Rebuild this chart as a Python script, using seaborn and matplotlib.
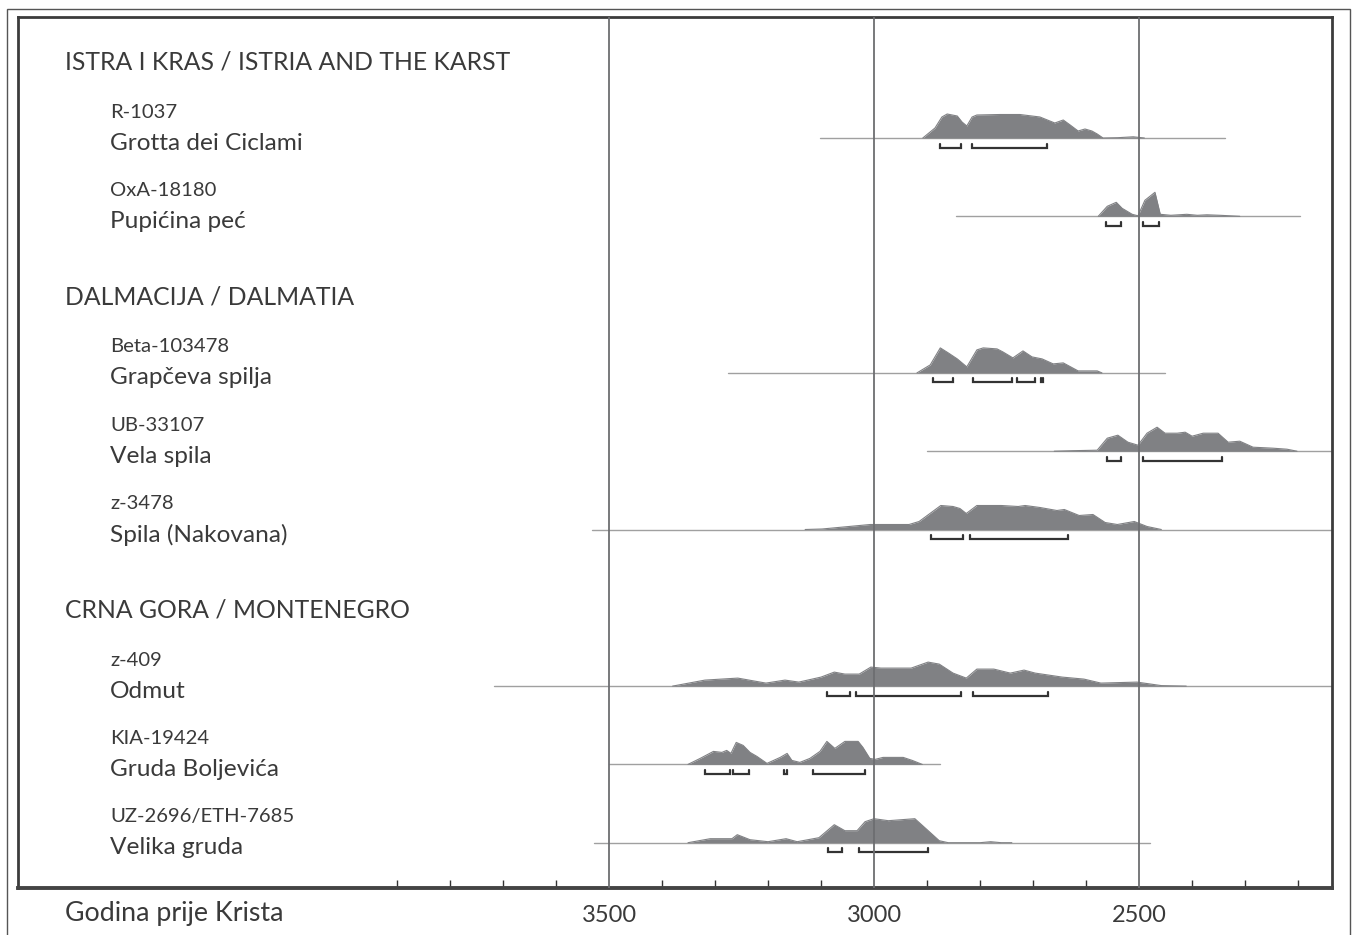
import numpy as np
import matplotlib
matplotlib.use("Agg")
import matplotlib.pyplot as plt
import seaborn as sns
from matplotlib.patches import Rectangle
import matplotlib.transforms as mtransforms

# Data: calibrated probability outlines (year BC, height in px-like units)
ciclami_yr = [2908, 2885, 2872, 2862, 2843, 2834, 2825, 2815, 2806, 2762, 2725, 2687, 2659, 2643, 2630, 2615, 2602, 2589, 2579, 2568, 2540, 2511, 2490]
ciclami_h = [0, 10, 21, 24, 22, 16, 12, 21, 23, 23.5, 23.5, 21, 15, 18, 13, 7, 9, 7, 4, 0, 0.3, 1.2, 0]

pupicina_yr = [2577, 2560, 2543, 2532, 2513, 2502, 2489, 2470, 2460, 2440, 2410, 2390, 2372, 2347, 2310]
pupicina_h = [0, 10, 14, 8, 2, 0.5, 16, 24, 2, 1, 2, 1, 1.5, 1, 0]

grapceva_yr = [2919, 2894, 2875, 2860, 2843, 2825, 2806, 2794, 2768, 2757, 2738, 2719, 2702, 2683, 2662, 2643, 2615, 2579, 2570]
grapceva_h = [0, 8, 25, 20, 14, 6, 23, 25, 24, 21, 15, 22, 16, 14, 9, 10, 2, 2, 0]

vela_yr = [2660, 2625, 2579, 2560, 2540, 2521, 2502, 2485, 2466, 2451, 2428, 2413, 2400, 2379, 2351, 2332, 2310, 2285, 2247, 2221, 2202]
vela_h = [0, 0.5, 1, 13, 16, 9, 6, 18, 24, 18, 18, 19, 15, 18, 18, 9, 10, 4, 3, 2, 0]

spila_yr = [3130, 3098, 3007, 2934, 2915, 2874, 2851, 2838, 2826, 2806, 2760, 2728, 2715, 2687, 2655, 2641, 2613, 2587, 2564, 2541, 2509, 2485, 2458]
spila_h = [0, 0.5, 5, 5, 8, 24, 23, 21, 16, 24, 24, 23, 24, 22, 19, 20, 14, 15, 7, 5, 8, 3, 0]

odmut_yr = [3380, 3319, 3257, 3204, 3168, 3142, 3100, 3075, 3055, 3028, 3006, 2987, 2930, 2898, 2877, 2851, 2826, 2806, 2774, 2743, 2717, 2696, 2645, 2604, 2572, 2504, 2458, 2411]
odmut_h = [0, 6, 8, 3, 6, 4, 9, 14, 12, 12, 19, 18, 18, 24, 22, 13, 8, 17, 17, 13, 16, 13, 9, 7, 3, 4, 0.5, 0]

gruda_yr = [3351, 3328, 3303, 3287, 3278, 3270, 3260, 3247, 3234, 3221, 3202, 3177, 3164, 3155, 3140, 3121, 3102, 3089, 3074, 3055, 3030, 3021, 3008, 2998, 2983, 2945, 2928, 2909]
gruda_h = [0, 6, 13, 12, 14, 11, 22, 19, 12, 8, 1, 7, 11, 4, 2, 6, 13, 23, 16, 23, 23, 17, 6, 5, 7, 7, 4, 0]

velika_yr = [3351, 3309, 3268, 3258, 3234, 3200, 3166, 3145, 3104, 3075, 3055, 3032, 3017, 3000, 2973, 2923, 2902, 2877, 2860, 2800, 2780, 2760, 2740]
velika_h = [0, 4, 4, 8, 3, 1, 4, 1, 5, 18, 12, 12, 21, 24, 22, 24, 14, 2, 0, 0, 1, 0, 0]

codes = ["R-1037", "OxA-18180", "Beta-103478", "UB-33107", "z-3478", "z-409", "KIA-19424", "UZ-2696/ETH-7685"]
names = ["Grotta dei Ciclami", "Pupićina peć", "Grapčeva spilja", "Vela spila", "Spila (Nakovana)", "Odmut", "Gruda Boljevića", "Velika gruda"]
regions = ["ISTRA I KRAS / ISTRIA AND THE KARST", "DALMACIJA / DALMATIA", "CRNA GORA / MONTENEGRO"]

# baseline extents (years BC)
baseline_start = [3102, 2845, 3275, 2900, 3532, 3717, 3500, 3528]
baseline_end = [2338, 2196, 2451, 2000, 2000, 2000, 2875, 2479]

# 95% ranges (brackets)
brackets = [
    [(2876, 2836), (2815, 2674)],
    [(2562, 2534), (2492, 2462)],
    [(2889, 2851), (2813, 2740), (2730, 2696), (2685, 2681)],
    [(2560, 2534), (2492, 2343)],
    [(2892, 2832), (2819, 2634)],
    [(3089, 3046), (3034, 2836), (2813, 2672)],
    [(3319, 3272), (3266, 3236), (3170, 3164), (3115, 3017)],
    [(3087, 3060), (3028, 2898)],
]

curves = [(ciclami_yr, ciclami_h), (pupicina_yr, pupicina_h), (grapceva_yr, grapceva_h),
          (vela_yr, vela_h), (spila_yr, spila_h), (odmut_yr, odmut_h),
          (gruda_yr, gruda_h), (velika_yr, velika_h)]

major_ticks = [3500, 3000, 2500]
minor_ticks = [3900, 3800, 3700, 3600, 3400, 3300, 3200, 3100, 2900, 2800, 2700, 2600, 2400, 2300, 2200]

# layout
slots = [0, 1, 3, 4, 5, 7, 8, 9]
region_slots = [-1, 2, 6]
px = 1 / 78.3  # one pixel in slot units

sns.set_style("white")
plt.rcParams['font.family'] = ['Lato', 'DejaVu Sans']

TXT = "#3a3a3a"
FILL = "#808184"

fig = plt.figure(figsize=(13.54, 9.35), dpi=100)
ax = fig.add_axes([18 / 1354, 1 - 888 / 935, 1314 / 1354, 871 / 935])
ax.set_xlim(4615, 2136)
ax.set_ylim((888 - 138) * px, (17 - 138) * px)

for g in major_ticks:
    ax.axvline(g, color="#6d6e71", lw=1.3, zorder=5)

for i, (yr, h) in enumerate(curves):
    y0 = slots[i]
    ax.plot([baseline_start[i], baseline_end[i]], [y0, y0], color="#a0a0a0", lw=1.0, zorder=2)
    top = y0 - np.array(h) * px
    ax.fill_between(yr, y0, top, color=FILL, lw=0, zorder=3)
    sns.lineplot(x=yr, y=top, ax=ax, color=FILL, lw=0.8, sort=False, estimator=None, zorder=3)
    yb = y0 + 9.5 * px
    for a, b in brackets[i]:
        ax.plot([a, a, b, b], [yb - 4 * px, yb, yb, yb - 4 * px], color="#333333", lw=1.6,
                solid_joinstyle="miter", zorder=4)

trans = mtransforms.blended_transform_factory(ax.transAxes, ax.transData)
for r, s in zip(regions, region_slots):
    ax.text(47 / 1314, s + 2 * px, r, transform=trans, fontsize=17.8, color=TXT, va="center", ha="left")
for i, s in enumerate(slots):
    ax.text(92 / 1314, s - 26 * px, codes[i], transform=trans, fontsize=14.6, color=TXT, va="center", ha="left")
    ax.text(92 / 1314, s + 5 * px, names[i], transform=trans, fontsize=17.6, color=TXT, va="center", ha="left")

ax.set_xticks(major_ticks)
ax.set_xticklabels([str(t) for t in major_ticks], fontsize=17, color=TXT)
ax.set_xticks(minor_ticks, minor=True)
ax.tick_params(axis="x", which="major", length=0, pad=12)
ax.tick_params(axis="x", which="minor", direction="in", length=6, width=1.0, color="#333333", bottom=True)
ax.set_yticks([])
ax.text(47 / 1314, -0.029, "Godina prije Krista", transform=ax.transAxes, fontsize=19.3, color=TXT, va="center", ha="left")

for side in ["left", "right", "top"]:
    ax.spines[side].set_color("#3c3c3c")
    ax.spines[side].set_linewidth(2.0)
ax.spines["bottom"].set_color("#444444")
ax.spines["bottom"].set_linewidth(2.8)

# outer frame
fig.patches.append(Rectangle((7 / 1354, -0.1), 1343 / 1354, 1.1 - 9 / 935, transform=fig.transFigure,
                             fill=False, edgecolor="#555555", lw=1.0))

fig.savefig("out.png", dpi=100)
